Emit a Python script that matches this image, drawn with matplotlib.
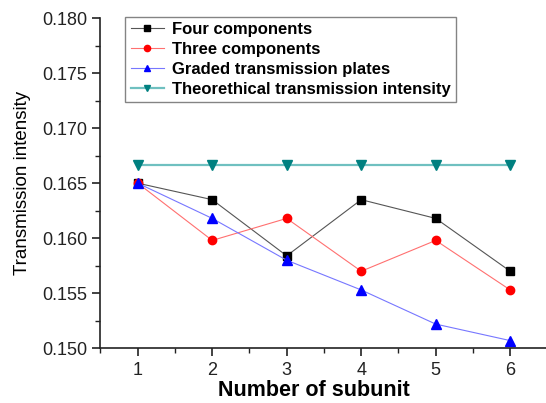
import matplotlib
matplotlib.use("Agg")
import matplotlib.pyplot as plt
from matplotlib.ticker import MultipleLocator, FormatStrFormatter

plt.rcParams['font.family'] = ['Liberation Sans', 'DejaVu Sans']

subunits = [1, 2, 3, 4, 5, 6]
four = [0.1650, 0.1635, 0.1584, 0.1635, 0.1618, 0.1570]
three = [0.1650, 0.1598, 0.1618, 0.1570, 0.1598, 0.1553]
graded = [0.1650, 0.1618, 0.1580, 0.1553, 0.1522, 0.1507]
theory = [0.16667, 0.16667, 0.16667, 0.16667, 0.16667, 0.16667]

fig = plt.figure(figsize=(5.46, 4.03), dpi=100)
ax = fig.add_axes([0.184, 0.1357, 0.8187, 0.8196])

ax.plot(subunits, four, color='#555555', lw=0.8, marker='s', ms=5.3,
        mfc='black', mec='black', label='Four components')
ax.plot(subunits, three, color='#ff7070', lw=0.8, marker='o', ms=6,
        mfc='red', mec='red', label='Three components')
ax.plot(subunits, graded, color='#7777ff', lw=0.8, marker='^', ms=6.5,
        mfc='blue', mec='blue', label='Graded transmission plates')
ax.plot(subunits, theory, color='#6fc0c0', lw=1.6, marker='v', ms=6.5,
        mfc='#008080', mec='#008080', label='Theorethical transmission intensity')

ax.set_xlim(0.5, 6.5)
ax.set_ylim(0.150, 0.180)
ax.xaxis.set_major_locator(MultipleLocator(1))
ax.xaxis.set_minor_locator(MultipleLocator(0.5))
ax.yaxis.set_major_locator(MultipleLocator(0.005))
ax.yaxis.set_minor_locator(MultipleLocator(0.0025))
ax.yaxis.set_major_formatter(FormatStrFormatter('%.3f'))

for s in ['top', 'right']:
    ax.spines[s].set_visible(False)
for s in ['left', 'bottom']:
    ax.spines[s].set_linewidth(1.2)
    ax.spines[s].set_color('#222222')

ax.tick_params(axis='both', which='major', direction='out', length=6, width=1.2,
               labelsize=13, colors='#222222')
ax.tick_params(axis='both', which='minor', direction='out', length=3.5, width=1.0,
               colors='#222222')

ax.set_xlabel('Number of subunit', fontsize=15.5, fontweight='bold', labelpad=2)
ax.xaxis.set_label_coords(0.478, -0.095)
ax.set_ylabel('Transmission intensity', fontsize=13.5, labelpad=8)

leg = ax.legend(loc='upper left', bbox_to_anchor=(0.056, 1.004),
                prop={'weight': 'bold', 'size': 12}, frameon=True, fancybox=False,
                handlelength=2.0, handletextpad=0.45, borderpad=0.32,
                labelspacing=0.3, borderaxespad=0.0, markerscale=0.75)
leg.get_frame().set_edgecolor('#666666')
leg.get_frame().set_linewidth(1.0)

fig.savefig('out.png', dpi=100)
